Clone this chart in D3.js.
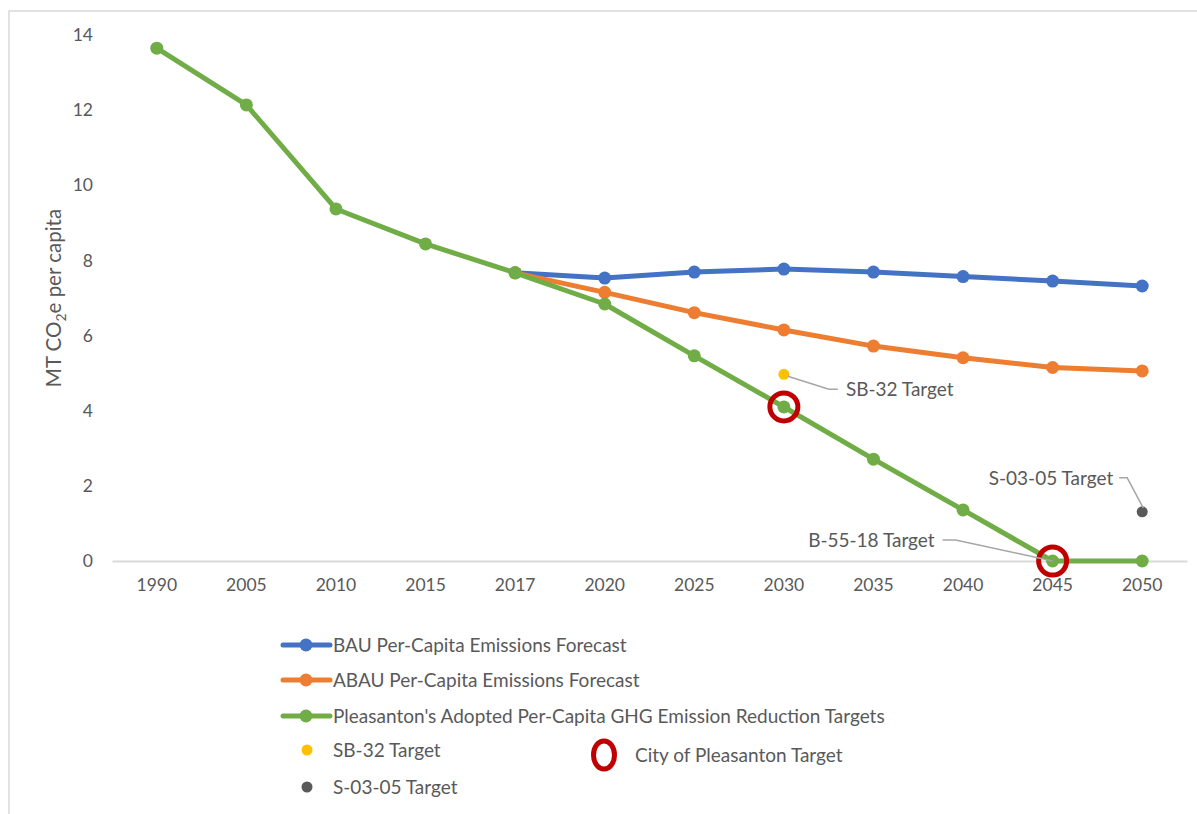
<!DOCTYPE html>
<html>
<head>
<meta charset="utf-8">
<script src="https://cdn.jsdelivr.net/npm/d3@7"></script>
<style>
  body { margin: 0; background: #fff; }
  text { font-family: Lato, "Open Sans", sans-serif; fill: #595959; }
</style>
</head>
<body>
<div id="chart"></div>
<script>
// Data
var years = ["1990", "2005", "2010", "2015", "2017", "2020", "2025", "2030", "2035", "2040", "2045", "2050"];
var bauYears = ["2017", "2020", "2025", "2030", "2035", "2040", "2045", "2050"];
var bauValues = [7.67, 7.53, 7.69, 7.77, 7.69, 7.57, 7.45, 7.32];
var abauValues = [7.67, 7.15, 6.61, 6.15, 5.72, 5.41, 5.15, 5.06];
var adoptedValues = [13.65, 12.14, 9.37, 8.44, 7.67, 6.84, 5.46, 4.10, 2.71, 1.36, 0, 0];
var sb32 = { year: "2030", value: 4.97 };
var s0305 = { year: "2050", value: 1.31 };
var cityTargets = [{ year: "2030", value: 4.10 }, { year: "2045", value: 0 }];
var yTicks = [0, 2, 4, 6, 8, 10, 12, 14];

var seriesNames = [
  "BAU Per-Capita Emissions Forecast",
  "ABAU Per-Capita Emissions Forecast",
  "Pleasanton's Adopted Per-Capita GHG Emission Reduction Targets"
];
var colors = ["#4472c4", "#ed7d31", "#70ad47"];

var svgWidth = 1197;
var svgHeight = 814;

var svg = d3.select("#chart")
  .append("svg")
  .attr("width", svgWidth)
  .attr("height", svgHeight);

// chart frame (runs past the right and bottom of the picture)
svg.append("rect")
  .attr("x", 9).attr("y", 11)
  .attr("width", 1300).attr("height", 900)
  .attr("fill", "none")
  .attr("stroke", "#d9d9d9")
  .attr("stroke-width", 1.5);

// scales
var xScale = d3.scaleBand()
  .domain(years)
  .range([112, 1187]);
var yScale = d3.scaleLinear()
  .domain([0, 14])
  .range([561, 35]);
var cx = d => xScale(d) + xScale.bandwidth() / 2;

// axes
var bottomAxis = d3.axisBottom(xScale).tickSize(0).tickPadding(18);
var xAxis = svg.append("g")
  .attr("transform", `translate(0, ${yScale(0)})`)
  .call(bottomAxis);
xAxis.select(".domain").attr("stroke", "#d9d9d9").attr("stroke-width", 2);
xAxis.selectAll("text").style("font-size", "17.5px").attr("fill", "#595959");

var leftAxis = d3.axisLeft(yScale).tickValues(yTicks).tickSize(0).tickPadding(0);
var yAxis = svg.append("g")
  .attr("transform", "translate(93, 0)")
  .call(leftAxis);
yAxis.select(".domain").remove();
yAxis.selectAll("text").style("font-size", "17.5px").attr("fill", "#595959");

// y axis title
var yTitle = svg.append("text")
  .attr("transform", "translate(61, 298) rotate(-90)")
  .attr("text-anchor", "middle")
  .style("font-size", "20.5px");
yTitle.append("tspan").text("MT CO");
yTitle.append("tspan").attr("dy", 5).style("font-size", "14px").text("2");
yTitle.append("tspan").attr("dy", -5).text("e per capita");

// lines
var line = d3.line()
  .x(d => cx(d.year))
  .y(d => yScale(d.value));

var seriesData = [
  bauYears.map((y, i) => ({ year: y, value: bauValues[i] })),
  bauYears.map((y, i) => ({ year: y, value: abauValues[i] })),
  years.map((y, i) => ({ year: y, value: adoptedValues[i] }))
];

seriesData.forEach(function(data, i) {
  svg.append("path")
    .datum(data)
    .attr("d", line)
    .attr("fill", "none")
    .attr("stroke", colors[i])
    .attr("stroke-width", 5)
    .attr("stroke-linejoin", "round");
  svg.append("g").selectAll("circle")
    .data(data)
    .enter()
    .append("circle")
    .attr("cx", d => cx(d.year))
    .attr("cy", d => yScale(d.value))
    .attr("r", 6.5)
    .attr("fill", colors[i]);
});

// target points
svg.append("circle")
  .attr("cx", cx(sb32.year)).attr("cy", yScale(sb32.value))
  .attr("r", 5.5).attr("fill", "#ffc000");
svg.append("circle")
  .attr("cx", cx(s0305.year)).attr("cy", yScale(s0305.value))
  .attr("r", 5.5).attr("fill", "#595959");

// city targets
svg.selectAll(".city")
  .data(cityTargets)
  .enter()
  .append("circle")
  .attr("class", "city")
  .attr("cx", d => cx(d.year))
  .attr("cy", d => yScale(d.value))
  .attr("r", 14)
  .attr("fill", "none")
  .attr("stroke", "#c00000")
  .attr("stroke-width", 5);

// data labels with leader lines
function leader(points) {
  svg.append("path")
    .attr("d", d3.line()(points))
    .attr("fill", "none")
    .attr("stroke", "#a6a6a6")
    .attr("stroke-width", 1.5);
}
var sbX = cx(sb32.year), sbY = yScale(sb32.value);
leader([[sbX + 4, sbY + 2], [sbX + 45, sbY + 15], [sbX + 54, sbY + 15]]);
svg.append("text").attr("x", sbX + 62).attr("y", sbY + 22)
  .style("font-size", "19px").text("SB-32 Target");

var sX = cx(s0305.year), sY = yScale(s0305.value);
leader([[sX + 1, sY - 4], [sX - 15, sY - 34], [sX - 23, sY - 34]]);
svg.append("text").attr("x", sX - 29).attr("y", sY - 27)
  .attr("text-anchor", "end")
  .style("font-size", "19px").text("S-03-05 Target");

var bX = cx("2045"), bY = yScale(0);
leader([[bX, bY], [bX - 97, bY - 21], [bX - 110, bY - 21]]);
svg.append("text").attr("x", bX - 118).attr("y", bY - 14)
  .attr("text-anchor", "end")
  .style("font-size", "19px").text("B-55-18 Target");

// legend
var legend = svg.append("g");
var rowY = [645, 680, 716];
seriesNames.forEach(function(name, i) {
  legend.append("line")
    .attr("x1", 283).attr("x2", 330)
    .attr("y1", rowY[i]).attr("y2", rowY[i])
    .attr("stroke", colors[i]).attr("stroke-width", 5)
    .attr("stroke-linecap", "round");
  legend.append("circle")
    .attr("cx", 306).attr("cy", rowY[i]).attr("r", 6.5)
    .attr("fill", colors[i]);
  legend.append("text")
    .attr("x", 333).attr("y", rowY[i] + 7)
    .style("font-size", "19px").text(name);
});
legend.append("circle").attr("cx", 307).attr("cy", 750).attr("r", 5.5).attr("fill", "#ffc000");
legend.append("text").attr("x", 333).attr("y", 757).style("font-size", "19px").text("SB-32 Target");
legend.append("circle").attr("cx", 307).attr("cy", 787).attr("r", 5.5).attr("fill", "#595959");
legend.append("text").attr("x", 333).attr("y", 794).style("font-size", "19px").text("S-03-05 Target");
legend.append("ellipse").attr("cx", 604).attr("cy", 755).attr("rx", 10.5).attr("ry", 14)
  .attr("fill", "none").attr("stroke", "#c00000").attr("stroke-width", 5);
legend.append("text").attr("x", 635).attr("y", 762).style("font-size", "19px").text("City of Pleasanton Target");
</script>
</body>
</html>
